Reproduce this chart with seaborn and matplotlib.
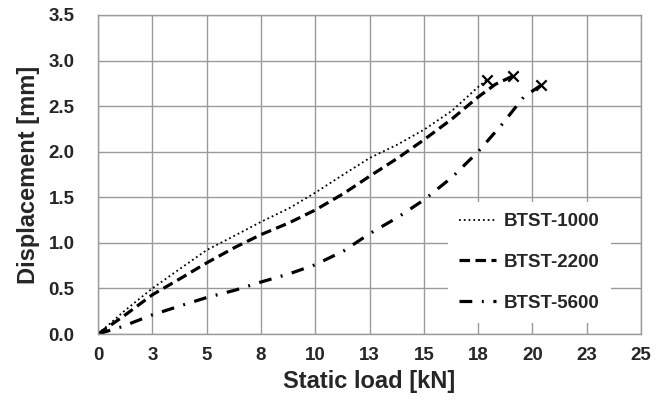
#!/usr/bin/env python3
"""Static load vs displacement curves for the BTST specimens."""

import numpy as np
import matplotlib
matplotlib.use("Agg")
import matplotlib.pyplot as plt
import seaborn as sns

# Data
load_1000 = [0, 1.2, 2.5, 3.8, 5, 6.3, 7.5, 8.8, 10, 11.3, 12.5, 13.8, 15, 16.3, 17.5, 17.9]
disp_1000 = [0, 0.25, 0.5, 0.72, 0.92, 1.08, 1.23, 1.38, 1.55, 1.75, 1.93, 2.08, 2.24, 2.45, 2.71, 2.79]

load_2200 = [0, 1.2, 2.5, 3.8, 5, 6.3, 7.5, 8.8, 10, 11.3, 12.5, 13.8, 15, 16.3, 17.5, 18.3, 19.1]
disp_2200 = [0, 0.2, 0.43, 0.61, 0.78, 0.95, 1.09, 1.22, 1.36, 1.54, 1.73, 1.93, 2.13, 2.36, 2.6, 2.74, 2.83]

load_5600 = [0, 1.1, 2.5, 3.8, 5, 6.3, 7.5, 8.8, 10, 11.3, 12.5, 13.8, 15, 16.3, 17.5, 18.6, 19.6, 20.4]
disp_5600 = [0, 0.08, 0.21, 0.31, 0.4, 0.48, 0.57, 0.66, 0.76, 0.91, 1.1, 1.28, 1.47, 1.72, 2.0, 2.3, 2.6, 2.73]

series_labels = ["BTST-1000", "BTST-2200", "BTST-5600"]

x_tick_values = [0, 2.5, 5, 7.5, 10, 12.5, 15, 17.5, 20, 22.5, 25]
x_tick_labels = ["0", "3", "5", "8", "10", "13", "15", "18", "20", "23", "25"]
y_tick_values = [0, 0.5, 1.0, 1.5, 2.0, 2.5, 3.0, 3.5]


def main():
    sns.set_style("white")
    plt.rcParams["font.family"] = ["Liberation Sans", "DejaVu Sans"]
    plt.rcParams["font.weight"] = "bold"

    fig = plt.figure(figsize=(6.65, 4.05), dpi=100)
    ax = fig.add_axes([0.1474, 0.1753, 0.8165, 0.7877])

    styles = [
        dict(linestyle=":", linewidth=1.3),
        dict(linestyle=(0, (3.3, 1.7)), linewidth=2.3),
        dict(linestyle=(0, (4, 3, 0.6, 3)), linewidth=2.3),
    ]
    series = [(load_1000, disp_1000), (load_2200, disp_2200), (load_5600, disp_5600)]

    for (xs, ys), label, st in zip(series, series_labels, styles):
        sns.lineplot(x=xs, y=ys, ax=ax, sort=False, color="black",
                     label=label, **st)
        # failure point marker at the end of each curve
        sns.scatterplot(x=[xs[-1]], y=[ys[-1]], ax=ax, marker="x", s=55,
                        color="black", linewidth=1.6, zorder=5)

    ax.set_xlim(0, 25)
    ax.set_ylim(0, 3.5)
    ax.set_xticks(x_tick_values)
    ax.set_xticklabels(x_tick_labels)
    ax.set_yticks(y_tick_values)
    ax.set_yticklabels([f"{v:.1f}" for v in y_tick_values])
    ax.tick_params(axis="both", length=0, labelsize=13.5)
    ax.tick_params(axis="y", pad=17)
    ax.tick_params(axis="x", pad=9)
    for lab in ax.get_xticklabels() + ax.get_yticklabels():
        lab.set_fontweight("bold")

    ax.grid(True, color="#9a9a9a", linewidth=1.0)
    ax.set_axisbelow(True)
    for sp in ax.spines.values():
        sp.set_color("#9a9a9a")
        sp.set_linewidth(1.0)

    ax.set_xlabel("Static load [kN]", fontsize=17, fontweight="bold", labelpad=5)
    ax.set_ylabel("Displacement [mm]", fontsize=17, fontweight="bold", labelpad=6)

    leg = ax.legend(loc="lower right", bbox_to_anchor=(0.945, 0.035),
                    borderaxespad=0, frameon=True, framealpha=1,
                    facecolor="white", edgecolor="none", fancybox=False,
                    fontsize=13.5, labelspacing=1.25, handlelength=1.95,
                    handletextpad=0.45, borderpad=0.6)
    for t in leg.get_texts():
        t.set_fontweight("bold")

    fig.savefig("out.png", dpi=100, facecolor="white")
    plt.close(fig)


if __name__ == "__main__":
    main()
